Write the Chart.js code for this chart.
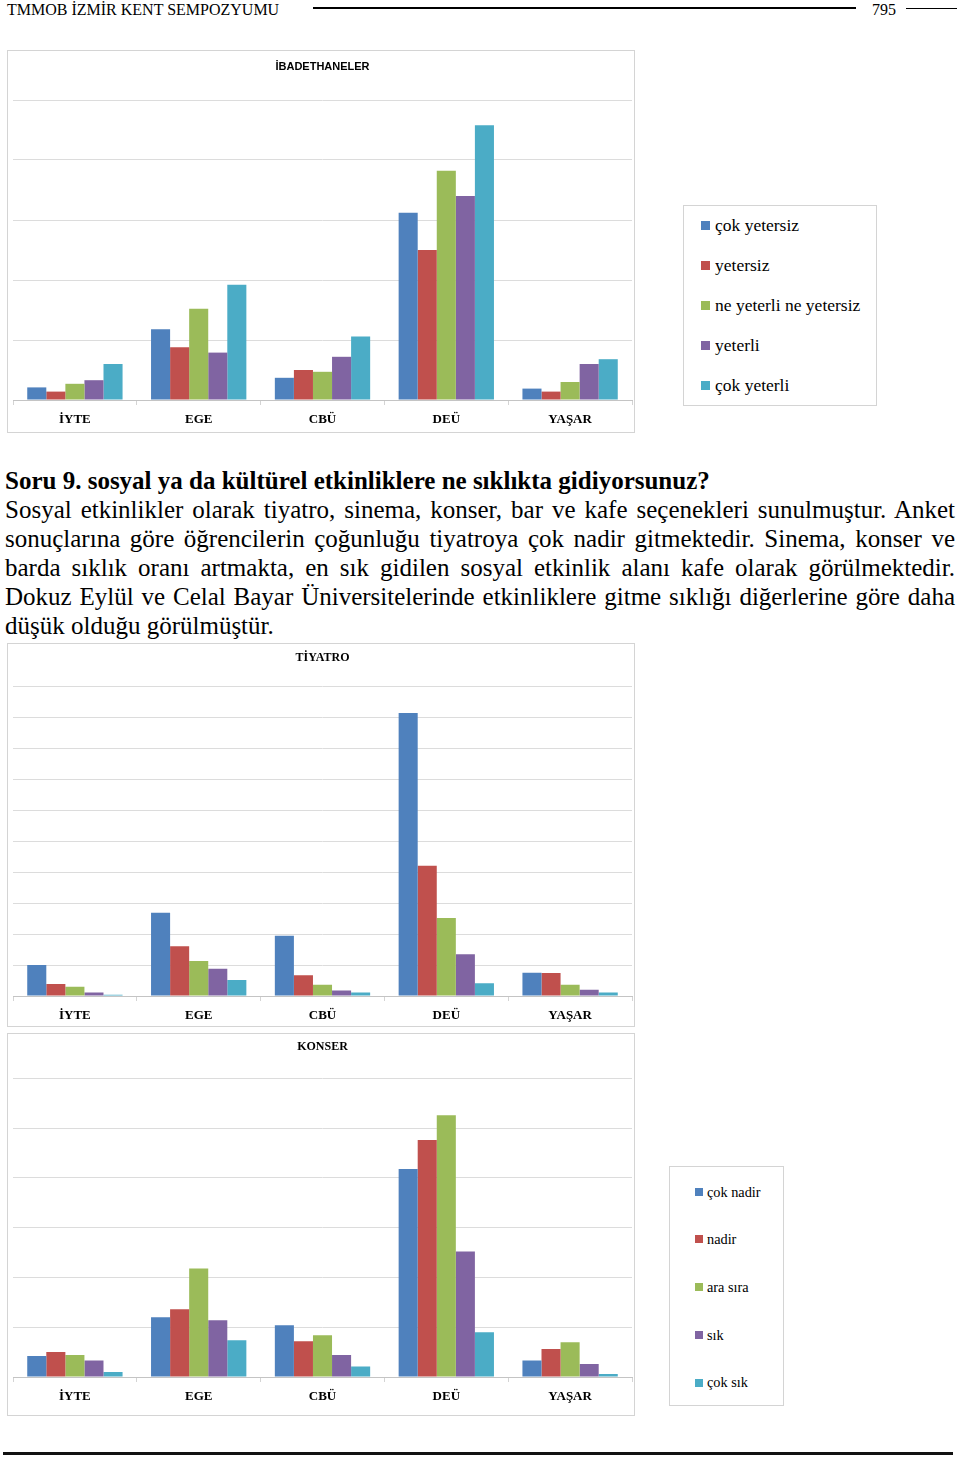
<!DOCTYPE html>
<html>
<head>
<meta charset="utf-8">
<script src="https://cdn.jsdelivr.net/npm/chart.js@4"></script>
<style>
	body { margin: 0; background: #fff; width: 960px; height: 1458px; position: relative; font-family: "Liberation Serif", serif; color: #000; }
	.abs { position: absolute; }
	.box { position: absolute; border: 1px solid #d4d4d4; box-sizing: border-box; background: #fff; }
	.box canvas { display: block; }
	.legend-item { position: absolute; white-space: nowrap; line-height: 1; }
	.legend-item span { display: inline-block; vertical-align: middle; }
	.txt { position: absolute; left: 5px; width: 950px; font-size: 25px; line-height: 29px; }
	.txt div { text-align: justify; text-align-last: justify; white-space: nowrap; }
	.txt div.last { text-align-last: left; }
</style>
</head>
<body>

<div class="abs" style="left:7px;top:1px;font-size:16px;">TMMOB İZMİR KENT SEMPOZYUMU</div>
<div class="abs" style="left:313px;top:7px;width:543px;height:2px;background:#000;"></div>
<div class="abs" style="left:872px;top:1px;font-size:16px;">795</div>
<div class="abs" style="left:906px;top:8px;width:51px;height:1px;background:#000;"></div>

<div class="box" style="left:7px;top:50px;width:628px;height:383px;"><canvas id="c1"></canvas></div>
<div class="box" id="leg1" style="left:683px;top:205px;width:194px;height:201px;"></div>

<div class="txt" style="top:466px;">
	<div style="font-weight:bold;text-align-last:left;">Soru 9. sosyal ya da kültürel etkinliklere ne sıklıkta gidiyorsunuz?</div>
	<div>Sosyal etkinlikler olarak tiyatro, sinema, konser, bar ve kafe seçenekleri sunulmuştur. Anket</div>
	<div>sonuçlarına göre öğrencilerin çoğunluğu tiyatroya çok nadir gitmektedir. Sinema, konser ve</div>
	<div>barda sıklık oranı artmakta, en sık gidilen sosyal etkinlik alanı kafe olarak görülmektedir.</div>
	<div>Dokuz Eylül ve Celal Bayar Üniversitelerinde etkinliklere gitme sıklığı diğerlerine göre daha</div>
	<div class="last">düşük olduğu görülmüştür.</div>
</div>

<div class="box" style="left:7px;top:643px;width:628px;height:384px;"><canvas id="c2"></canvas></div>

<div class="box" style="left:7px;top:1033px;width:628px;height:383px;"><canvas id="c3"></canvas></div>
<div class="box" id="leg3" style="left:669px;top:1166px;width:115px;height:240px;"></div>

<div class="abs" style="left:3px;top:1452px;width:950px;height:3px;background:#111;"></div>

<script>
// universiteler
const categories = ['İYTE', 'EGE', 'CBÜ', 'DEÜ', 'YAŞAR'];
const colors = ['#4F81BD', '#C0504D', '#9BBB59', '#8064A2', '#4BACC6'];

// ibadethaneler
const ibadetLabels = ['çok yetersiz', 'yetersiz', 'ne yeterli ne yetersiz', 'yeterli', 'çok yeterli'];
const ibadetCokYetersiz = [2.1, 11.8, 3.7, 31.2, 1.9];
const ibadetYetersiz = [1.4, 8.8, 5.0, 25.0, 1.4];
const ibadetNeNe = [2.7, 15.2, 4.7, 38.2, 3.0];
const ibadetYeterli = [3.3, 7.9, 7.2, 34.0, 6.0];
const ibadetCokYeterli = [6.0, 19.2, 10.6, 45.8, 6.8];
const ibadetTicks = [0, 10, 20, 30, 40, 50];

// siklik (tiyatro, konser)
const siklikLabels = ['çok nadir', 'nadir', 'ara sıra', 'sık', 'çok sık'];

const tiyatroCokNadir = [10.0, 26.9, 19.5, 91.5, 7.5];
const tiyatroNadir = [3.9, 16.1, 6.7, 42.1, 7.4];
const tiyatroAraSira = [3.0, 11.3, 3.6, 25.2, 3.6];
const tiyatroSik = [1.1, 8.8, 1.8, 13.5, 2.0];
const tiyatroCokSik = [0.4, 5.2, 1.1, 4.1, 1.1];
const tiyatroTicks = [0, 10, 20, 30, 40, 50, 60, 70, 80, 90, 100];

const konserCokNadir = [4.2, 12.0, 10.4, 41.8, 3.3];
const konserNadir = [5.0, 13.6, 7.2, 47.6, 5.6];
const konserAraSira = [4.4, 21.8, 8.4, 52.6, 7.0];
const konserSik = [3.3, 11.4, 4.4, 25.2, 2.6];
const konserCokSik = [1.0, 7.4, 2.1, 9.0, 0.6];
const konserTicks = [0, 10, 20, 30, 40, 50, 60];

function makeDatasets(labels, series) {
	return series.map(function (data, i) {
		return { label: labels[i], data: data, backgroundColor: colors[i], borderWidth: 0 };
	});
}

function barChart(id, title, titleFont, labels, series, ticks, pad) {
	const canvas = document.getElementById(id);
	const box = canvas.parentNode;
	canvas.width = box.clientWidth;
	canvas.height = box.clientHeight;
	return new Chart(canvas, {
		type: 'bar',
		data: { labels: categories, datasets: makeDatasets(labels, series) },
		options: {
			responsive: false,
			animation: false,
			layout: { padding: { left: 5, right: 2, top: 0, bottom: 0 } },
			datasets: { bar: { categoryPercentage: 0.77, barPercentage: 1 } },
			plugins: {
				legend: { display: false },
				tooltip: { enabled: false },
				title: {
					display: true,
					text: title,
					color: '#000',
					font: titleFont,
					padding: { top: pad.titleTop, bottom: pad.titleBottom }
				}
			},
			scales: {
				x: {
					grid: { display: true, drawOnChartArea: false, drawTicks: true, tickLength: 5, color: '#d4d4d4' },
					border: { display: true, color: '#c4c4c4' },
					ticks: { color: '#000', padding: 7, font: { family: 'Liberation Serif', size: 13, weight: 'bold' } },
					afterFit: function (scale) { scale.height = pad.axis; }
				},
				y: {
					min: ticks[0],
					max: ticks[ticks.length - 1],
					afterBuildTicks: function (scale) { scale.ticks = ticks.map(function (v) { return { value: v }; }); },
					ticks: { display: false },
					grid: { color: '#dcdcdc', drawTicks: false },
					border: { display: false },
					afterFit: function (scale) { scale.width = 0; }
				}
			}
		}
	});
}

function buildLegend(id, labels, opt) {
	const el = document.getElementById(id);
	labels.forEach(function (label, i) {
		const item = document.createElement('div');
		item.className = 'legend-item';
		item.style.left = opt.left + 'px';
		item.style.top = (opt.top + i * opt.step) + 'px';
		item.style.fontSize = opt.font + 'px';
		item.innerHTML = '<span style="width:' + opt.sq + 'px;height:' + opt.sq + 'px;background:' + colors[i] +
			';margin-right:' + opt.gap + 'px;"></span><span>' + label + '</span>';
		el.appendChild(item);
	});
}

barChart('c1', 'İBADETHANELER', { family: 'Liberation Sans', size: 11, weight: 'bold' },
	ibadetLabels, [ibadetCokYetersiz, ibadetYetersiz, ibadetNeNe, ibadetYeterli, ibadetCokYeterli],
	ibadetTicks, { titleTop: 9.4, titleBottom: 26.4, axis: 32 });

barChart('c2', 'TİYATRO', { family: 'Liberation Serif', size: 12, weight: 'bold' },
	siklikLabels, [tiyatroCokNadir, tiyatroNadir, tiyatroAraSira, tiyatroSik, tiyatroCokSik],
	tiyatroTicks, { titleTop: 6.8, titleBottom: 21.5, axis: 30 });

barChart('c3', 'KONSER', { family: 'Liberation Serif', size: 12, weight: 'bold' },
	siklikLabels, [konserCokNadir, konserNadir, konserAraSira, konserSik, konserCokSik],
	konserTicks, { titleTop: 5.8, titleBottom: 24.1, axis: 38 });

buildLegend('leg1', ibadetLabels, { left: 17, top: 10, step: 40, font: 17.5, sq: 9, gap: 5 });
buildLegend('leg3', siklikLabels, { left: 25, top: 16, step: 47.7, font: 14.3, sq: 8, gap: 4 });
</script>
</body>
</html>
